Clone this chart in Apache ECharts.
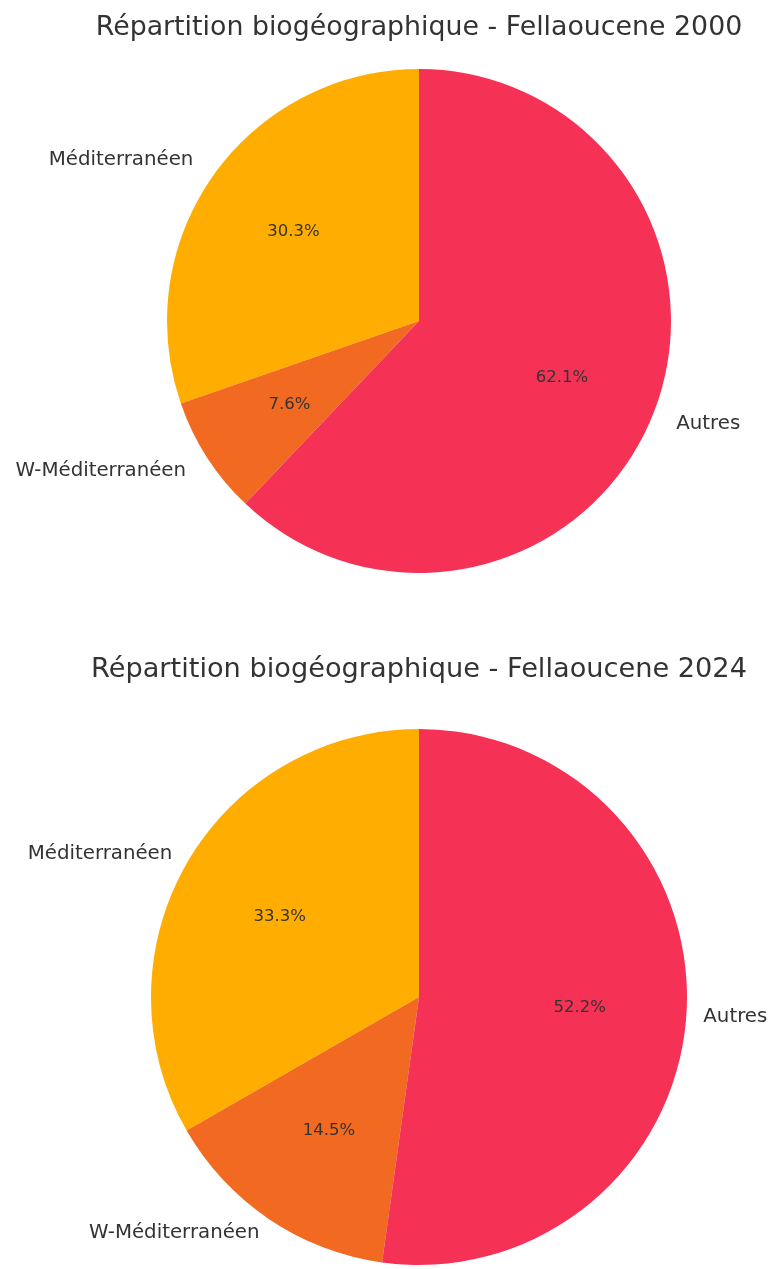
<!DOCTYPE html>
<html>
<head>
<meta charset="utf-8">
<style>
  html, body { margin: 0; padding: 0; background: #fff; }
  #chart { width: 769px; height: 1269px; }
</style>
<script src="https://cdn.jsdelivr.net/npm/echarts@6/dist/echarts.min.js"></script>
</head>
<body>
<div id="chart"></div>
<script>
  // données
  var categories = ['Méditerranéen', 'W-Méditerranéen', 'Autres'];
  var values2000 = [30.3, 7.6, 62.1];
  var values2024 = [33.3, 14.5, 52.2];
  var titles = ['Répartition biogéographique - Fellaoucene 2000', 'Répartition biogéographique - Fellaoucene 2024'];
  var colors = ['#FFAD00', '#F26A21', '#F53256'];

  var font = 'DejaVu Sans';
  var textColor = '#333';

  function toData(values) {
    return categories.map(function (name, i) {
      return { name: name, value: values[i] };
    });
  }

  // deux séries par camembert : les parts + noms dehors, puis une couche transparente pour les %
  function pieSeries(values, center, r, labelR, pctR) {
    return [
      {
        type: 'pie',
        center: center,
        radius: r,
        startAngle: 90,
        clockwise: false,
        avoidLabelOverlap: false,
        silent: true,
        itemStyle: { borderWidth: 0 },
        data: toData(values).map(function (d, i) {
          d.itemStyle = { color: colors[i] };
          return d;
        }),
        label: {
          show: true,
          position: 'outside',
          formatter: '{b}',
          fontFamily: font,
          fontSize: 19.8,
          color: textColor,
          distanceToLabelLine: 0
        },
        labelLine: { show: false, length: labelR - r, length2: 0 },
        emphasis: { disabled: true }
      },
      {
        type: 'pie',
        center: center,
        radius: pctR * 2,
        startAngle: 90,
        clockwise: false,
        silent: true,
        z: 3,
        itemStyle: { color: 'rgba(0,0,0,0)', borderWidth: 0 },
        data: toData(values),
        label: {
          show: true,
          position: 'inside',
          formatter: function (p) { return p.percent.toFixed(1) + '%'; },
          fontFamily: font,
          fontSize: 16.5,
          color: textColor
        },
        labelLine: { show: false },
        emphasis: { disabled: true }
      }
    ];
  }

  var chart = echarts.init(document.getElementById('chart'));

  chart.setOption({
    backgroundColor: '#fff',
    animation: false,
    title: [
      {
        text: titles[0], left: 419, top: 15, textAlign: 'center', padding: 0,
        textStyle: { fontFamily: font, fontSize: 26.8, fontWeight: 'normal', color: textColor }
      },
      {
        text: titles[1], left: 419, top: 656, textAlign: 'center', padding: 0,
        textStyle: { fontFamily: font, fontSize: 27.2, fontWeight: 'normal', color: textColor }
      }
    ],
    series: [].concat(
      pieSeries(values2000, [419, 321], 252, 277, 151),
      pieSeries(values2024, [419, 997], 268, 285, 158)
    )
  });
</script>
</body>
</html>
